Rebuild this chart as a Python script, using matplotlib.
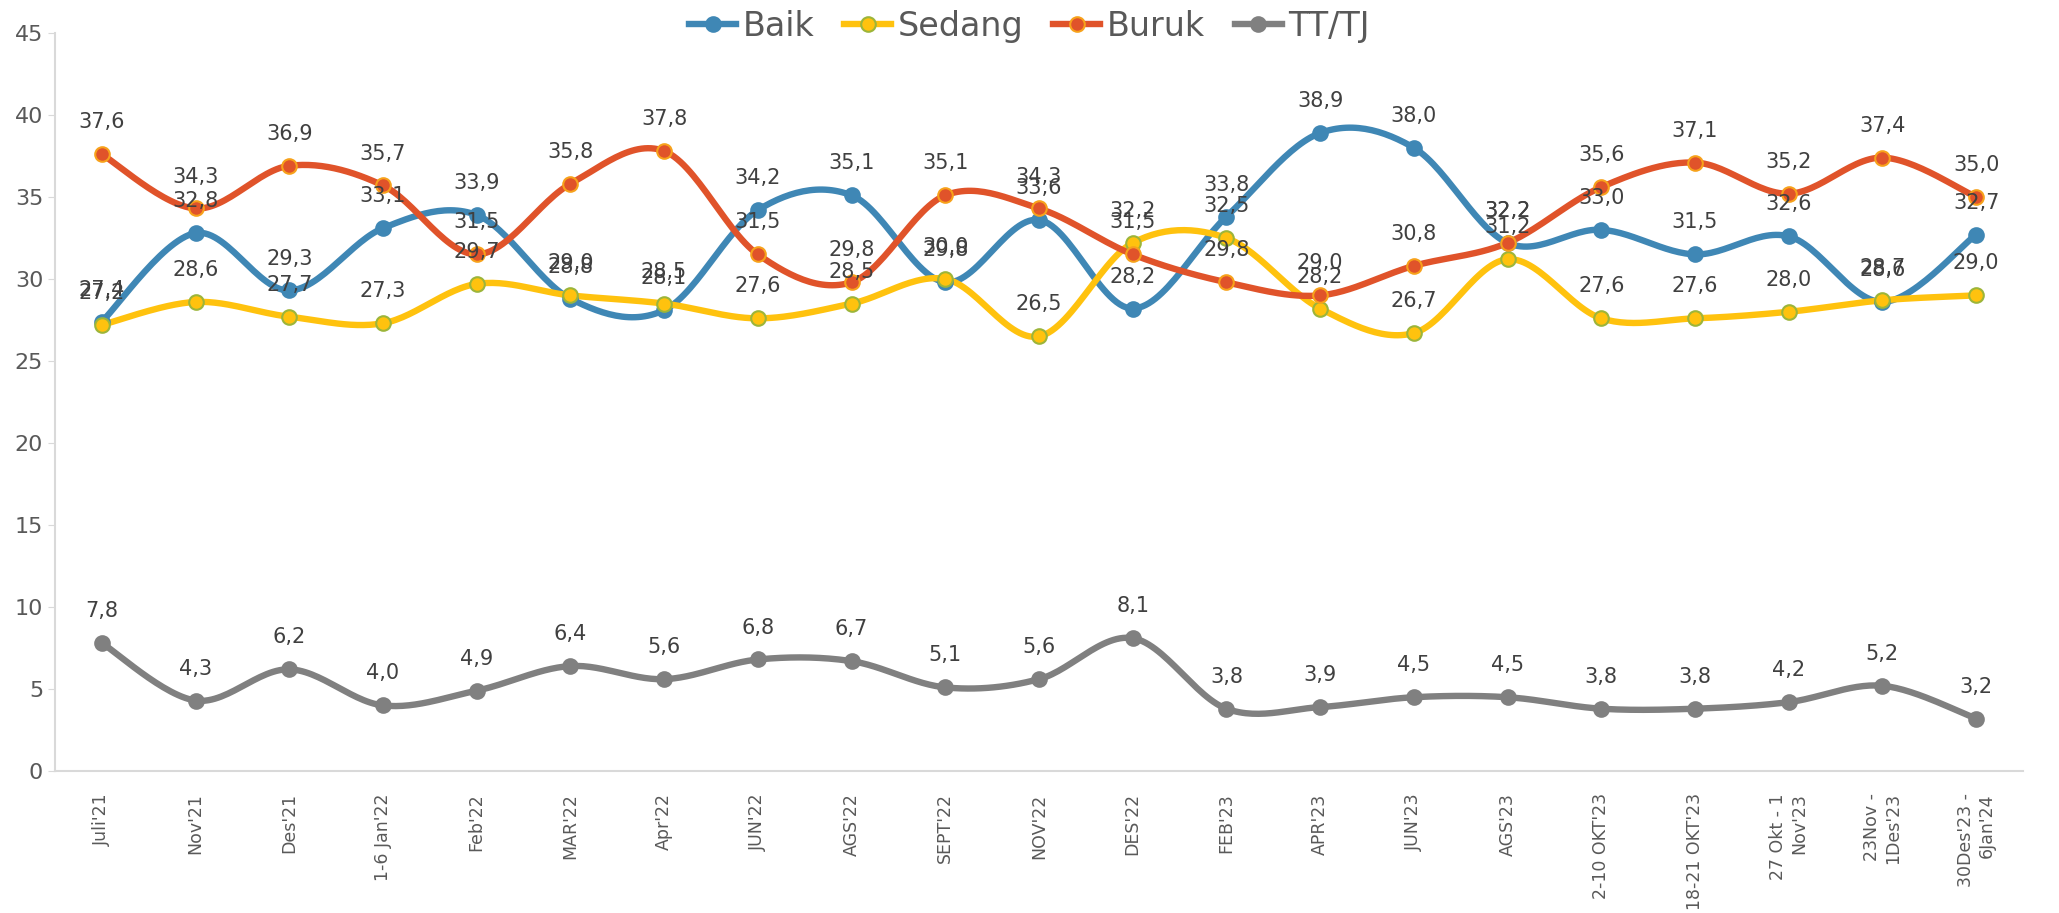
import numpy as np
import matplotlib
matplotlib.use("Agg")
import matplotlib.pyplot as plt
from matplotlib.lines import Line2D

plt.rcParams['font.family'] = ['DejaVu Sans']

categories = ["Juli'21", "Nov'21", "Des'21", "1-6 Jan'22", "Feb'22", "MAR'22", "Apr'22",
              "JUN'22", "AGS'22", "SEPT'22", "NOV'22", "DES'22", "FEB'23", "APR'23",
              "JUN'23", "AGS'23", "2-10 OKT'23", "18-21 OKT'23", "27 Okt - 1\nNov'23",
              "23Nov -\n1Des'23", "30Des'23 -\n6Jan'24"]

baik = [27.4, 32.8, 29.3, 33.1, 33.9, 28.8, 28.1, 34.2, 35.1, 29.8, 33.6, 28.2, 33.8,
        38.9, 38.0, 32.2, 33.0, 31.5, 32.6, 28.6, 32.7]
sedang = [27.2, 28.6, 27.7, 27.3, 29.7, 29.0, 28.5, 27.6, 28.5, 30.0, 26.5, 32.2, 32.5,
          28.2, 26.7, 31.2, 27.6, 27.6, 28.0, 28.7, 29.0]
buruk = [37.6, 34.3, 36.9, 35.7, 31.5, 35.8, 37.8, 31.5, 29.8, 35.1, 34.3, 31.5, 29.8,
         29.0, 30.8, 32.2, 35.6, 37.1, 35.2, 37.4, 35.0]
tttj = [7.8, 4.3, 6.2, 4.0, 4.9, 6.4, 5.6, 6.8, 6.7, 5.1, 5.6, 8.1, 3.8, 3.9, 4.5, 4.5,
        3.8, 3.8, 4.2, 5.2, 3.2]

series = [
    ("Baik", baik, "#3F87B5", "#3F87B5", "#3F87B5"),
    ("Sedang", sedang, "#FFC20E", "#FFC20E", "#9CB53A"),
    ("Buruk", buruk, "#E0532A", "#E0532A", "#F7A21B"),
    ("TT/TJ", tttj, "#808080", "#808080", "#808080"),
]


def smooth(x, y, n=30):
    x = np.asarray(x, float)
    y = np.asarray(y, float)
    px = np.concatenate([[x[0]], x, [x[-1]]])
    py = np.concatenate([[y[0]], y, [y[-1]]])
    xs, ys = [], []
    t = np.linspace(0, 1, n)
    for i in range(1, len(px) - 2):
        p0 = np.array([px[i], py[i]])
        p3 = np.array([px[i + 1], py[i + 1]])
        p1 = p0 + (np.array([px[i + 1], py[i + 1]]) - np.array([px[i - 1], py[i - 1]])) / 6
        p2 = p3 - (np.array([px[i + 2], py[i + 2]]) - np.array([px[i], py[i]])) / 6
        b = ((1 - t) ** 3)[:, None] * p0 + (3 * (1 - t) ** 2 * t)[:, None] * p1 + \
            (3 * (1 - t) * t ** 2)[:, None] * p2 + (t ** 3)[:, None] * p3
        xs.extend(b[:, 0])
        ys.extend(b[:, 1])
    return xs, ys


fig = plt.figure(figsize=(20.59, 9.13), dpi=100)
ax = fig.add_axes([0.0267, 0.1555, 0.9558, 0.8084])

x = np.arange(len(categories))
handles = []
for name, vals, lc, fc, ec in series:
    sx, sy = smooth(x, vals)
    ax.plot(sx, sy, color=lc, lw=4.6, solid_capstyle='round', zorder=2)
    ax.plot(x, vals, ls='none', marker='o', ms=10.5, mfc=fc, mec=ec, mew=1.5, zorder=3)
    for xi, v in zip(x, vals):
        ax.annotate(f"{v:.1f}".replace('.', ','), (xi, v), xytext=(0, 23),
                    textcoords='offset points', ha='center', va='center',
                    fontsize=15, color='#404040', zorder=4)
    handles.append(Line2D([], [], color=lc, lw=4.6, marker='o', ms=10.5, mfc=fc, mec=ec,
                          mew=1.5, label=name))

ax.set_xlim(-0.5, len(categories) - 0.5)
ax.set_ylim(0, 45)
ax.set_yticks(np.arange(0, 46, 5))
ax.set_xticks(x)
ax.set_xticklabels(categories, rotation=90, ha='center', va='top', multialignment='right',
                   fontsize=12.5, color='#595959')
ax.tick_params(axis='y', labelsize=16, colors='#595959', length=5, color='#D9D9D9')
ax.tick_params(axis='x', length=0, pad=16)
for s in ['top', 'right']:
    ax.spines[s].set_visible(False)
for s in ['left', 'bottom']:
    ax.spines[s].set_color('#D9D9D9')
    ax.spines[s].set_linewidth(1.5)

fig.legend(handles=handles, loc='upper center', bbox_to_anchor=(0.5, 1.022), ncol=4,
           frameon=False, fontsize=24, handlelength=1.4, columnspacing=0.9,
           handletextpad=0.2, labelcolor='#595959')

fig.savefig("out.png", dpi=100)
